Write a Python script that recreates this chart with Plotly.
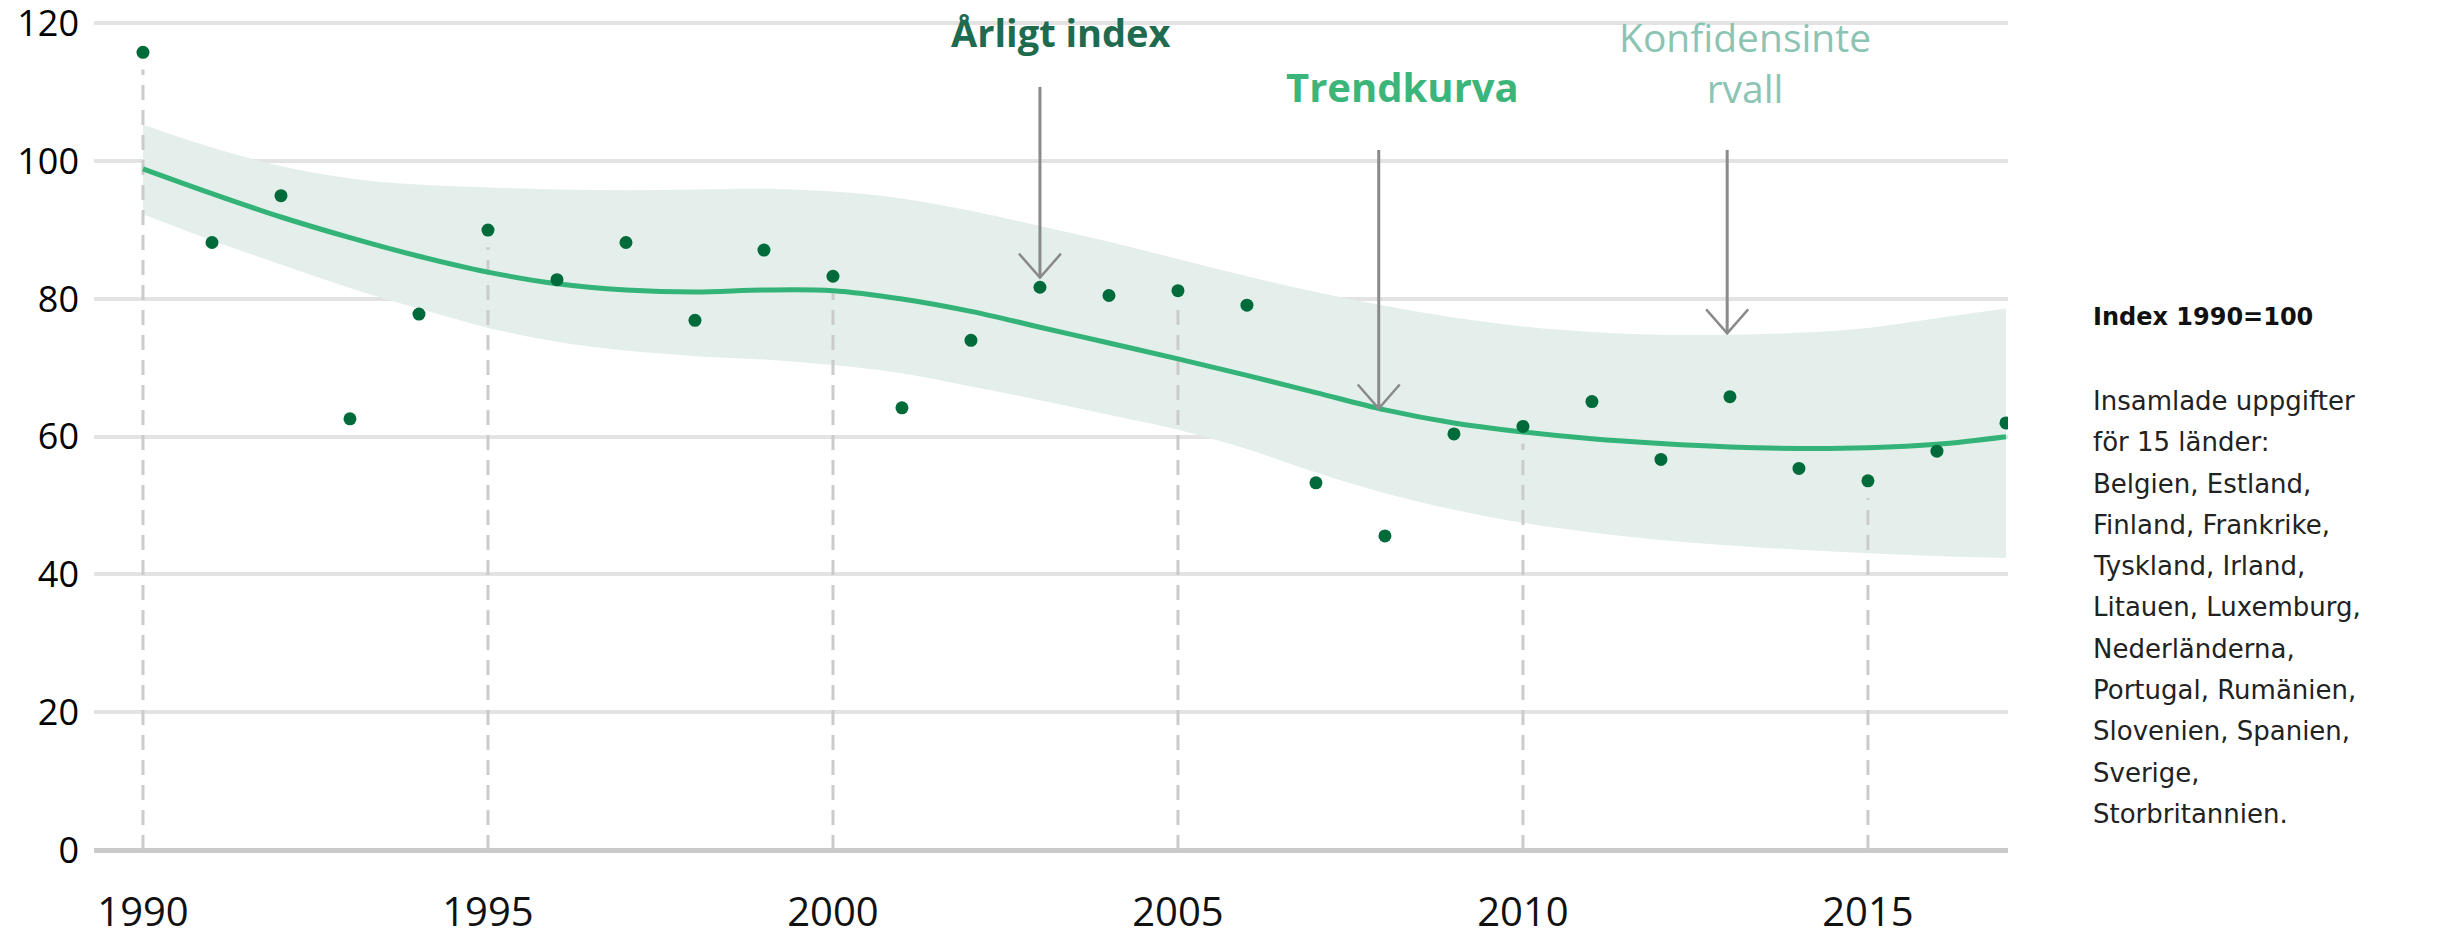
import plotly.graph_objects as go

# ---------------- data ----------------
years = list(range(1990, 2018))
annual_index = [115.8, 88.2, 95.0, 62.6, 77.8, 90.0, 82.8, 88.2, 76.9, 87.1,
                83.3, 64.2, 74.0, 81.7, 80.5, 81.2, 79.1, 53.3, 45.6, 60.4,
                61.5, 65.1, 56.7, 65.8, 55.4, 53.6, 57.9, 62.0]
trend = [98.9, 95.3, 91.9, 88.9, 86.2, 83.9, 82.2, 81.3, 81.0, 81.3,
         81.2, 80.0, 78.2, 75.9, 73.6, 71.3, 68.9, 66.4, 63.9, 62.0,
         60.7, 59.7, 59.0, 58.5, 58.3, 58.4, 58.9, 60.0]
ci_upper = [105.3, 102.0, 99.3, 97.5, 96.6, 96.2, 95.9, 95.8, 95.9, 96.0,
            95.6, 94.6, 92.8, 90.6, 88.3, 85.8, 83.3, 81.0, 79.0, 77.3,
            76.0, 75.2, 74.8, 74.8, 75.1, 75.8, 77.2, 78.6]
ci_lower = [92.3, 88.5, 85.0, 81.6, 78.6, 75.8, 73.8, 72.5, 71.7, 71.2,
            70.4, 69.2, 67.3, 65.3, 63.2, 61.0, 58.2, 54.8, 51.8, 49.4,
            47.5, 46.1, 45.0, 44.2, 43.6, 43.1, 42.7, 42.4]
tick_years = [1990, 1995, 2000, 2005, 2010, 2015]
y_ticks = [0, 20, 40, 60, 80, 100, 120]

label_annual = "Årligt index"
label_trend = "Trendkurva"
label_ci = "Konfidensinte<br>rvall"
side_title = "Index 1990=100"
side_lines = ["Insamlade uppgifter", "för 15 länder:", "Belgien, Estland,",
              "Finland, Frankrike,", "Tyskland, Irland,", "Litauen, Luxemburg,",
              "Nederländerna,", "Portugal, Rumänien,", "Slovenien, Spanien,",
              "Sverige,", "Storbritannien."]

# ---------------- styling ----------------
FONT = "Open Sans"
C_DOT = "#006b3a"
C_TREND = "#33b377"
C_BAND = "#e4efeb"
C_ARROW = "#8a8a8a"

fig = go.Figure()

# confidence band
fig.add_trace(go.Scatter(x=years, y=ci_upper, mode="lines", line=dict(width=0, shape="spline"),
                         hoverinfo="skip", showlegend=False))
fig.add_trace(go.Scatter(x=years, y=ci_lower, mode="lines", line=dict(width=0, shape="spline"),
                         fill="tonexty", fillcolor=C_BAND, hoverinfo="skip", showlegend=False))

# dashed verticals from 0 up to the annual point at the labelled years
for ty in tick_years:
    v = annual_index[years.index(ty)]
    fig.add_trace(go.Scatter(x=[ty, ty], y=[0, v - 2.5], mode="lines",
                             line=dict(color="#cbcbcb", width=3, dash="15px,10px"),
                             hoverinfo="skip", showlegend=False))

# trend curve
fig.add_trace(go.Scatter(x=years, y=trend, mode="lines",
                         line=dict(color=C_TREND, width=5, shape="spline"), showlegend=False))

# annual points
fig.add_trace(go.Scatter(x=years, y=annual_index, mode="markers",
                         marker=dict(color=C_DOT, size=13), showlegend=False))

# ---------------- annotations ----------------
ann = []
shapes = []
# arrows: stem as annotation, open V head as pixel-sized path shape
for x, y, ay in [(2003.0, 83.1, -192), (2007.91, 64.1, -260), (2012.96, 75.0, -185)]:
    ann.append(dict(x=x, y=y, xref="x", yref="y", ax=0, ay=ay, text="", showarrow=True,
                    arrowhead=0, arrowwidth=3, arrowcolor=C_ARROW, standoff=0))
    shapes.append(dict(type="path", xref="x", yref="y", xsizemode="pixel", ysizemode="pixel",
                       xanchor=x, yanchor=y, path="M-21,24 L0,0 L21,24",
                       line=dict(color=C_ARROW, width=2.5)))
# labels
ann.append(dict(x=2003.3, y=118.8, xref="x", yref="y", text="<b>%s</b>" % label_annual,
                showarrow=False, font=dict(family=FONT, size=38, color="#1e6b50"),
                xanchor="center", yanchor="middle"))
ann.append(dict(x=2008.25, y=110.8, xref="x", yref="y", text="<b>%s</b>" % label_trend,
                showarrow=False, font=dict(family=FONT, size=40, color="#3cb57a"),
                xanchor="center", yanchor="middle"))
ann.append(dict(x=2013.22, y=114.4, xref="x", yref="y", text=label_ci,
                showarrow=False, font=dict(family=FONT, size=39, color="#8cc4b4"),
                xanchor="center", yanchor="middle", align="center"))

# side text
def py2paper(py):
    return (850 - py) / 830.0

xp = (2091 - 94) / 1914.0
ann.append(dict(x=xp, y=py2paper(317), xref="paper", yref="paper", text="<b>%s</b>" % side_title,
                showarrow=False, xanchor="left", yanchor="middle",
                font=dict(family="DejaVu Sans", size=24, color="#111111")))
for i, line in enumerate(side_lines):
    ann.append(dict(x=xp, y=py2paper(401 + 41.3 * i), xref="paper", yref="paper", text=line,
                    showarrow=False, xanchor="left", yanchor="middle",
                    font=dict(family="DejaVu Sans", size=26, color="#222222")))

fig.update_layout(
    width=2447, height=943, autosize=False,
    margin=dict(l=94, r=439, t=20, b=93, autoexpand=False),
    paper_bgcolor="white", plot_bgcolor="white",
    annotations=ann, shapes=shapes,
    xaxis=dict(range=[1989.29, 2017.03], tickvals=tick_years, showgrid=False, zeroline=False,
               showline=False, ticks="", ticklabelstandoff=35, automargin=False,
               tickfont=dict(family=FONT, size=40, color="#111111")),
    yaxis=dict(range=[0, 120.5], tickvals=y_ticks, showgrid=True, gridcolor="#e3e3e3", gridwidth=4,
               zeroline=True, zerolinecolor="#cacaca", zerolinewidth=5, showline=False,
               ticks="", ticklabelstandoff=14, ticklabeloverflow="allow", automargin=False,
               tickfont=dict(family=FONT, size=36, color="#000000")),
)

fig.write_html("out.html", config={"displayModeBar": False},
               post_script="document.body.style.margin='0px';")
